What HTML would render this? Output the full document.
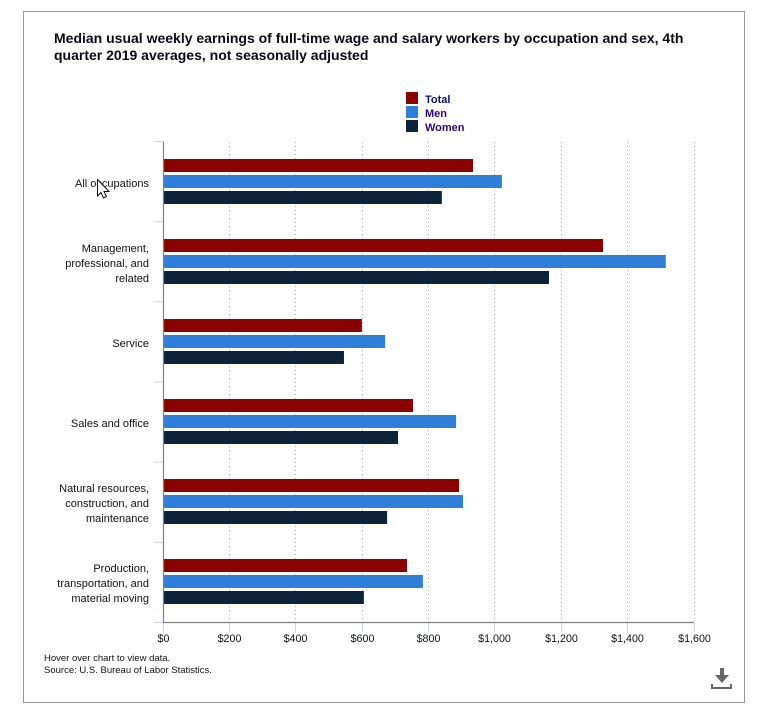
<!DOCTYPE html>
<html lang="en">
<head>
<meta charset="utf-8">
<title>Median usual weekly earnings</title>
<style>
  html, body { margin: 0; padding: 0; background: #fff; }
  #page { position: relative; width: 757px; height: 718px; overflow: hidden; background: #fff; font-family: "Liberation Sans", sans-serif; }
  #frame { position: absolute; left: 23px; top: 11px; width: 722px; height: 692px; border: 1px solid #999; box-sizing: border-box; }
  #title { position: absolute; left: 54px; top: 30px; width: 660px; font-size: 14px; line-height: 17px; font-weight: bold; color: #0a0a14; white-space: nowrap; }
  #footer { position: absolute; left: 44px; top: 653px; font-size: 9.5px; line-height: 12px; color: #111; white-space: nowrap; }
  svg { position: absolute; left: 0; top: 0; }
  text { font-family: "Liberation Sans", sans-serif; }
</style>
</head>
<body>
<div id="page">
  <div id="frame"></div>
  <div id="title">Median usual weekly earnings of full-time wage and salary workers by occupation and sex, 4th<br>quarter 2019 averages, not seasonally adjusted</div>
  <svg id="chart" width="757" height="718" viewBox="0 0 757 718"></svg>
  <div id="footer">Hover over chart to view data.<br>Source: U.S. Bureau of Labor Statistics.</div>
</div>
<script>
const categories = [
  ["All occupations"],
  ["Management,", "professional, and", "related"],
  ["Service"],
  ["Sales and office"],
  ["Natural resources,", "construction, and", "maintenance"],
  ["Production,", "transportation, and", "material moving"]
];
const seriesNames = ["Total", "Men", "Women"];
const totalValues = [933, 1325, 598, 752, 891, 734];
const menValues = [1020, 1514, 668, 882, 903, 782];
const womenValues = [839, 1162, 544, 707, 674, 604];
const tickValues = [0, 200, 400, 600, 800, 1000, 1200, 1400, 1600];

const seriesValues = [totalValues, menValues, womenValues];
const seriesColors = ["#8b0000", "#2f7ed8", "#0d233a"];
const legendTextColors = ["#10107a", "#2a0a78", "#2a0a78"];
const svgNS = "http://www.w3.org/2000/svg";
const chart = document.getElementById("chart");

const plotLeft = 163.2, plotRight = 694, plotTop = 141.5, plotBottom = 622.5;
const maxTick = tickValues[tickValues.length - 1];
const bandHeight = (plotBottom - plotTop) / categories.length;
const barStep = 80, firstBarTop = 159, firstLabelCentre = 183;

function xScale(v) { return plotLeft + v * (plotRight - plotLeft) / maxTick; }
function bandTop(i) { return plotTop + i * bandHeight; }
function make(tag, attrs) {
  const n = document.createElementNS(svgNS, tag);
  for (const k in attrs) n.setAttribute(k, attrs[k]);
  chart.appendChild(n);
  return n;
}
function money(v) { return "$" + v.toLocaleString("en-US"); }

tickValues.forEach(function (t) {
  if (t === 0) return;
  const x = Math.floor(xScale(t)) + 0.5;
  const g = make("line", { x1: x, x2: x, y1: 142, y2: 622, stroke: "#b4b4b4", "stroke-width": 1, "stroke-dasharray": "1,3" });
  
  
});

seriesValues.forEach(function (values, s) {
  values.forEach(function (v, i) {
    const r = make("rect", { x: xScale(0), y: firstBarTop + i * barStep + s * 16, width: xScale(v) - xScale(0) + 0.3, height: 13, fill: seriesColors[s] });
    
    
  });
});

tickValues.forEach(function (t) {
  const x = Math.floor(xScale(t)) + 0.5;
  const m = make("line", { x1: x, x2: x, y1: plotBottom, y2: plotBottom + 10, stroke: "#ccd6eb", "stroke-width": 1 });
  
  
  const l = make("text", { x: x, y: 642, "text-anchor": "middle", "font-size": 10.7, fill: "#111" });
  l.textContent = money(t);
  
  
});

categories.forEach(function (lines, i) {
  const centre = firstLabelCentre + i * barStep;
  lines.forEach(function (line, j) {
    const y = centre + (j - (lines.length - 1) / 2) * 15 + 4;
    const t = make("text", { x: 149, y: y, "text-anchor": "end", "font-size": 11, fill: "#111" });
    t.textContent = line;
    
    
  });
});

for (let i = 0; i <= categories.length; i++) {
  const m = make("line", { x1: 154, x2: 163, y1: bandTop(i), y2: bandTop(i), stroke: "#ccd6eb", "stroke-width": 1 });
  
  
}

const yAxis = make("line", { x1: 163.5, x2: 163.5, y1: plotTop, y2: plotBottom, stroke: "#808080", "stroke-width": 1.2 });


const xAxis = make("line", { x1: 163, x2: plotRight, y1: plotBottom, y2: plotBottom, stroke: "#808080", "stroke-width": 1.2 });



seriesNames.forEach(function (name, s) {
  const sw = make("rect", { x: 406, y: 92 + s * 14, width: 12, height: 12, fill: seriesColors[s] });
  
  
  const t = make("text", { x: 425, y: 103 + s * 14, "font-size": 11, "font-weight": "bold", fill: legendTextColors[s] });
  t.textContent = name;
  
  
});

const cursor = make("polygon", { points: "97.5,179.5 97.5,196 101,192.5 103.5,198 106.5,196.5 104,191.5 109,191.5", fill: "#fff", stroke: "#111", "stroke-width": 1 });



const dlArrow = make("polygon", { points: "720,668 724,668 724,675 729,675 722,683 715,675 720,675", fill: "#666" });


const dlTray = make("path", { d: "M711 684 H713 V687 H730 V684 H732 V689 H711 Z", fill: "#666" });


</script>
</body>
</html>
